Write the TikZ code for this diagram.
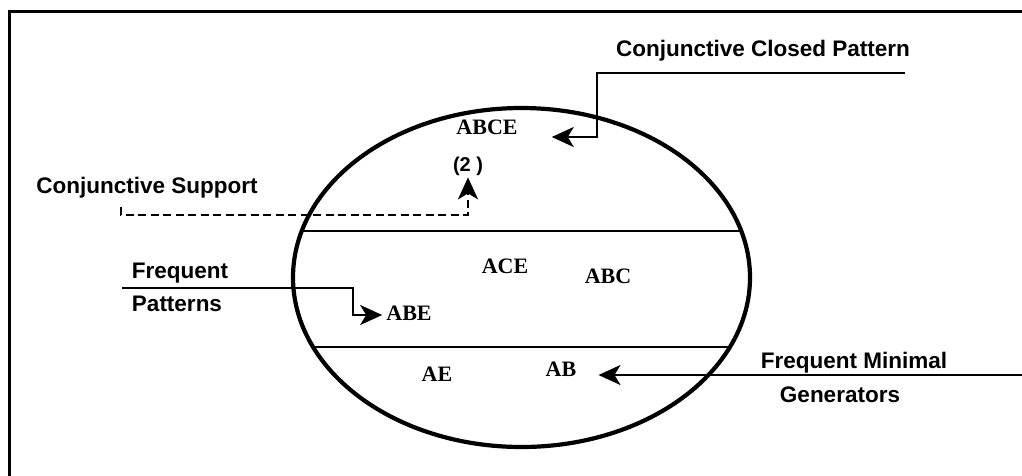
\documentclass[tikz,border=0pt]{standalone}
\usepackage{fontspec}
\setmainfont{Liberation Serif}
\setsansfont{Liberation Sans}
\usetikzlibrary{arrows.meta}
\begin{document}
\begin{tikzpicture}[x=1pt,y=-1pt,
  lab/.style={font=\fontsize{22.5}{26}\selectfont\sffamily\bfseries, inner sep=0pt, anchor=base},
  item/.style={font=\fontsize{22}{26}\selectfont\rmfamily\bfseries, inner sep=0pt, anchor=base},
  conn/.style={line width=2.6pt, -{Stealth[length=22pt,width=20pt,inset=6pt]}},
  dconn/.style={line width=2.6pt, dash pattern=on 8pt off 4.5pt, -{Stealth[length=22pt,width=20pt,inset=6pt]}},
  sep/.style={line width=2.4pt},
  frame/.style={line width=3pt}]
\useasboundingbox (0,0) rectangle (1022,475);
\clip (0,0) rectangle (1022,475);
\draw[frame] (9.5,490) -- (9.5,11.5) -- (1040,11.5);
% ellipse
\draw[line width=4.2pt] (521.5,277.5) ellipse [x radius=228.5, y radius=169.5];
\draw[sep] (303,231) -- (740,231);
\draw[sep] (314,347) -- (729,347);
% labels
\node[lab] (ccp) at (763,56) {Conjunctive Closed Pattern};
\node[lab] (cs) at (147,193) {Conjunctive Support};
\node[lab] (fp1) at (180,278) {Frequent};
\node[lab] (fp2) at (177,311) {Patterns};
\node[lab] (fmg1) at (854,368) {Frequent Minimal};
\node[lab] (fmg2) at (840,402) {Generators};
% items
\node[item] (abce) at (487,134) {ABCE};
\node[lab, font=\fontsize{20}{24}\selectfont\sffamily\bfseries] (sup) at (468,171) {(2 )};
\node[item] (ace) at (505,273) {ACE};
\node[item] (abc) at (608,283) {ABC};
\node[item] (abe) at (409,320) {ABE};
\node[item] (ae) at (437,381) {AE};
\node[item] (ab) at (561,376) {AB};
% connectors
\coordinate (c1) at (905,73);
\coordinate (c2) at (121,207);
\coordinate (c3) at (122,288);
\coordinate (c4) at (1022,375);
\draw[conn] (c1) -- (597,73) -- (597,137) -- ([xshift=34pt]abce.east |- 0,137);
\draw[dconn] (c2) -- (121,215) -- (sup.south |- 0,215) -- ([yshift=-2pt]sup.south);
\draw[conn] (c3) -- (353,288) -- (353,315) -- ([xshift=-4pt]abe.west |- 0,315);
\draw[conn] (c4) -- ([xshift=22pt]ab.east |- 0,375);
\end{tikzpicture}
\end{document}
